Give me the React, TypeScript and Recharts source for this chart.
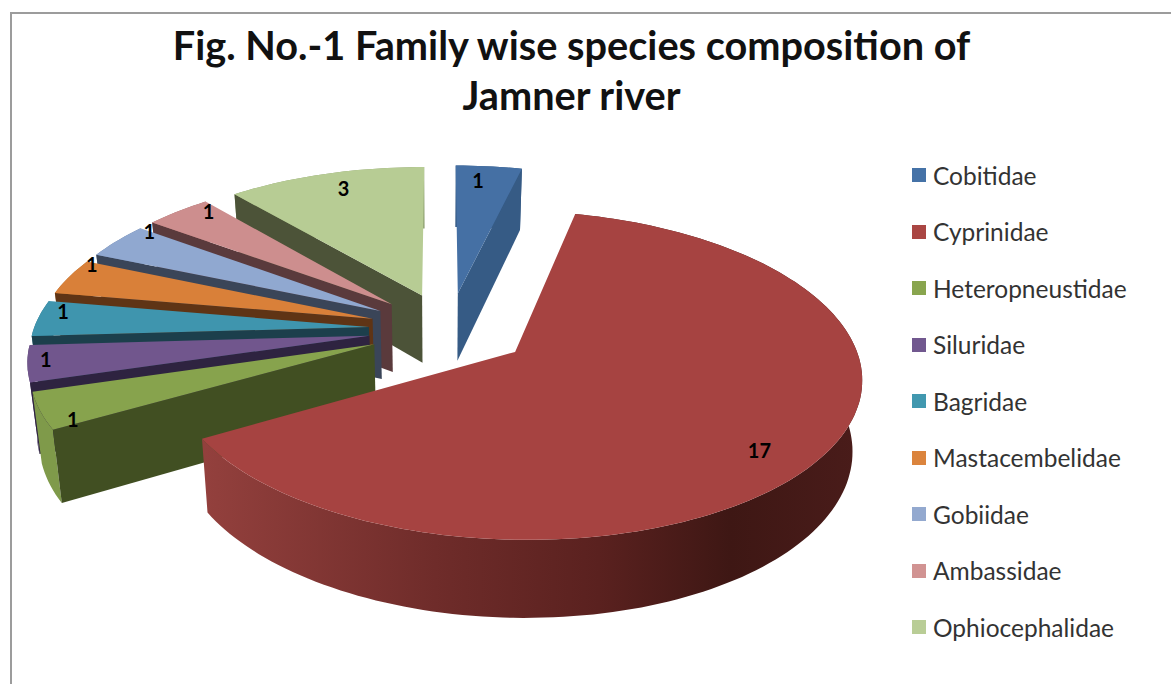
import React from 'react';
import { PieChart, Pie, Legend } from 'recharts';

const FAMILIES = ['Cobitidae', 'Cyprinidae', 'Heteropneustidae', 'Siluridae', 'Bagridae', 'Mastacembelidae', 'Gobiidae', 'Ambassidae', 'Ophiocephalidae'];
const SPECIES = [1, 17, 1, 1, 1, 1, 1, 1, 3];
const COLORS = ['#4572A7', '#AA4643', '#89A54E', '#71588F', '#4198AF', '#DB843D', '#93A9CF', '#D19392', '#B9CD96'];
const TOP_COLORS = ['#4570a4', '#a64341', '#87a34d', '#71568d', '#3f95ae', '#d98039', '#90a8d0', '#cd8e8e', '#b7cc94'];
const WALL_COLORS = ['#365b85', 'url(#redWall)', '#414f22', '#2e2340', '#1c3f4c', '#5f3415', '#3a4558', '#5a3a3c', '#4c5338'];
const RIM_COLORS = ['#365b85', 'url(#redWall)', '#7f9a4a', '#4c3a66', '#2f7388', '#a8652c', '#6c80a2', '#9f6c6c', '#8ea071'];

// back slices first, the big one last so it sits on top
const DRAW_ORDER = [0, 8, 7, 6, 5, 4, 3, 2, 1];

// small pixel nudges for the count labels, the original chart places them by hand
const LABEL_NUDGE = [[-9, 6], [-3, 13], [8, 13], [-6, -3], [2, -8], [2, -16], [15, -14], [17, -6], [12, 6]];

const rows = FAMILIES.map((name, i) => ({ name, value: SPECIES[i], fill: COLORS[i] }));

// fake 3D: the pie lies on a plane (radius = 1) seen in perspective
const VIEW_X = 440;
const VIEW_Y = 352;
const RX = 342;
const RY = 161.3;
const TILT = 0.142;
const DEPTH = 70;
const DEPTH_TILT = 0.103;
const BOTTOM_SCALE = 0.977;
const PIE_U = 0.027;
const PIE_V = 0.144;
const EXPLODE = 0.24;

const RAD = Math.PI / 180;

const project = (u: number, v: number, drop = false) => {
  const w = 1 + TILT * v;
  return {
    x: VIEW_X + ((RX * u) / w) * (drop ? BOTTOM_SCALE : 1),
    y: VIEW_Y - (RY * v) / w + (drop ? DEPTH / (1 + DEPTH_TILT * v) : 0),
  };
};

const slicePoint = (mid: number, angle: number, r: number, drop = false) =>
  project(
    PIE_U + EXPLODE * Math.cos(mid * RAD) + r * Math.cos(angle * RAD),
    PIE_V + EXPLODE * Math.sin(mid * RAD) + r * Math.sin(angle * RAD),
    drop,
  );

const toPath = (pts: { x: number; y: number }[]) =>
  'M' + pts.map((p) => `${p.x.toFixed(1)},${p.y.toFixed(1)}`).join('L') + 'Z';

const Slice3D = (props: any) => {
  const { startAngle, endAngle, index } = props;
  const mid = (startAngle + endAngle) / 2;
  const steps = Math.max(4, Math.ceil(Math.abs(endAngle - startAngle) / 1.5));
  const angles = Array.from({ length: steps + 1 }, (_, i) => startAngle + ((endAngle - startAngle) * i) / steps);
  const arcTop = angles.map((a) => slicePoint(mid, a, 1));
  const arcLow = angles.map((a) => slicePoint(mid, a, 1, true));
  const tipTop = slicePoint(mid, 0, 0);
  const tipLow = slicePoint(mid, 0, 0, true);
  const last = arcTop.length - 1;
  const wall = WALL_COLORS[index];
  // a cut face only shows when its outward side looks down towards the viewer
  const startVisible = Math.sin((startAngle + 90) * RAD) < -0.001;
  const endVisible = Math.sin((endAngle - 90) * RAD) < -0.001;

  return (
    <g>
      <path d={toPath([...arcTop, ...arcLow.slice().reverse()])} fill={RIM_COLORS[index]} />
      {startVisible && <path d={toPath([tipTop, arcTop[0], arcLow[0], tipLow])} fill={wall} />}
      {endVisible && <path d={toPath([tipTop, arcTop[last], arcLow[last], tipLow])} fill={wall} />}
      <path d={toPath([tipTop, ...arcTop])} fill={TOP_COLORS[index]} />
    </g>
  );
};

const renderCount = (props: any) => {
  const { startAngle, endAngle, value, name } = props;
  const mid = (startAngle + endAngle) / 2;
  const p = slicePoint(mid, mid, value > 3 ? 0.82 : 0.93);
  const nudge = LABEL_NUDGE[FAMILIES.indexOf(name)] || [0, 0];
  return (
    <text x={p.x + nudge[0]} y={p.y + nudge[1]} textAnchor="middle" dominantBaseline="central" fontFamily="Lato" fontWeight={700} fontSize={20} fill="#000">
      {value}
    </text>
  );
};

const LegendList = () => (
  <div>
    {FAMILIES.map((name, i) => (
      <div key={name} style={{ height: 56.5, display: 'flex', alignItems: 'center' }}>
        <span style={{ width: 14, height: 14, background: COLORS[i], marginRight: 7 }} />
        <span style={{ fontFamily: 'Lato', fontSize: 24.5, color: '#333' }}>{name}</span>
      </div>
    ))}
  </div>
);

export default function App() {
  return (
    <div style={{ position: 'absolute', left: 0, top: 0, width: 1171, height: 684, background: '#fff', overflow: 'hidden' }}>
      <div style={{ position: 'absolute', left: 10, top: 12, width: 1170, height: 700, border: '2px solid #9c9c9c' }} />
      <div
        style={{
          position: 'absolute',
          left: 0,
          top: 20,
          width: 1143,
          textAlign: 'center',
          fontFamily: 'Lato',
          fontWeight: 700,
          fontSize: 39.7,
          lineHeight: '50px',
          color: '#111',
        }}
      >
        Fig. No.-1 Family wise species composition of
        <br />
        Jamner river
      </div>
      <PieChart width={1171} height={684} style={{ position: 'absolute', left: 0, top: 0 }}>
        {DRAW_ORDER.map((idx, n) => (
          <Pie
            key={idx}
            data={rows}
            dataKey="value"
            nameKey="name"
            cx={450}
            cy={330}
            outerRadius={300}
            startAngle={90}
            endAngle={-270}
            stroke="none"
            isAnimationActive={false}
            legendType={n === 0 ? 'square' : 'none'}
            labelLine={false}
            label={n === DRAW_ORDER.length - 1 ? renderCount : false}
            shape={(p: any) => (p.name === FAMILIES[idx] ? <Slice3D {...p} index={idx} /> : <g />)}
          />
        ))}
        <Legend content={LegendList} layout="vertical" wrapperStyle={{ position: 'absolute', left: 912, top: 147, width: 255 }} />
        <defs>
          <linearGradient id="redWall" gradientUnits="userSpaceOnUse" x1="205" y1="0" x2="862" y2="0">
            <stop offset="0" stopColor="#93403d" />
            <stop offset="0.35" stopColor="#6f2c2a" />
            <stop offset="0.6" stopColor="#5a211f" />
            <stop offset="0.8" stopColor="#3e1714" />
            <stop offset="1" stopColor="#4a1c1a" />
          </linearGradient>
        </defs>
      </PieChart>
    </div>
  );
}
